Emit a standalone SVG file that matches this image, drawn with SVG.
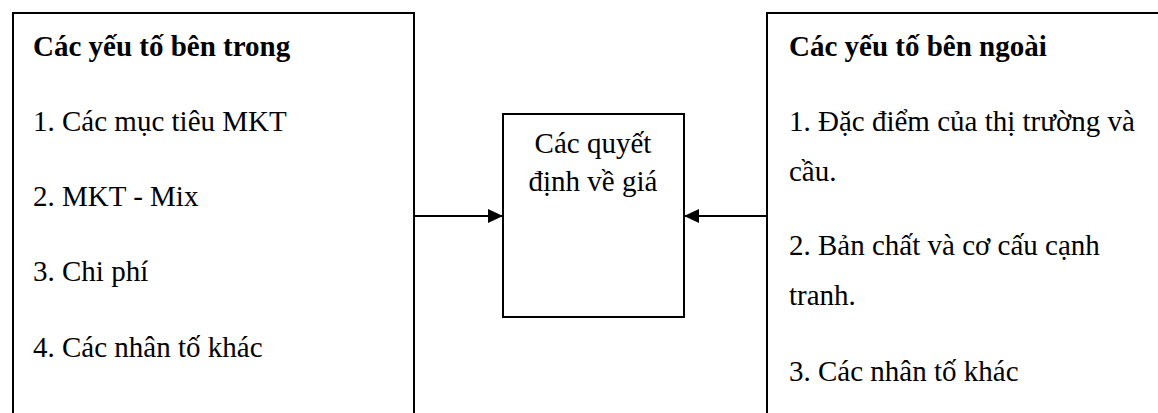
<svg xmlns="http://www.w3.org/2000/svg" width="1158" height="413" viewBox="0 0 1158 413">
<style>
.box{fill:none;stroke:#000;stroke-width:2}
.t{font-family:"Liberation Serif","Times New Roman",serif;font-size:29px;fill:#000}
.b{font-weight:bold}
.c{text-anchor:middle}
.conn{stroke:#000;stroke-width:2;fill:none}
</style>
<defs>
<marker id="ah" markerWidth="15" markerHeight="14" refX="15" refY="7" orient="auto" markerUnits="userSpaceOnUse">
<path d="M0,0 L15,7 L0,14 Z" fill="#000"/>
</marker>
</defs>
<rect width="1158" height="413" fill="#fff"/>
<g id="internal">
<path class="box" d="M13,413 V13 H414 V413"/>
<text class="t b" x="33" y="56">Các yếu tố bên trong</text>
<text class="t" x="33" y="131">1. Các mục tiêu MKT</text>
<text class="t" x="33" y="206">2. MKT - Mix</text>
<text class="t" x="33" y="281">3. Chi phí</text>
<text class="t" x="33" y="357">4. Các nhân tố khác</text>
</g>
<g id="decision">
<rect class="box" x="503" y="114" width="181" height="203"/>
<text class="t c" x="593" y="153">Các quyết</text>
<text class="t c" x="593" y="191">định về giá</text>
</g>
<g id="external">
<path class="box" d="M767,413 V13 H1158"/>
<text class="t b" x="789" y="56">Các yếu tố bên ngoài</text>
<text class="t" x="789" y="131">1. Đặc điểm của thị trường và</text>
<text class="t" x="789" y="181">cầu.</text>
<text class="t" x="789" y="255">2. Bản chất và cơ cấu cạnh</text>
<text class="t" x="789" y="305">tranh.</text>
<text class="t" x="789" y="381">3. Các nhân tố khác</text>
</g>
<g id="connectors">
<line class="conn" x1="414" y1="216" x2="503" y2="216" marker-end="url(#ah)"/>
<line class="conn" x1="767" y1="216" x2="684" y2="216" marker-end="url(#ah)"/>
</g>
</svg>
